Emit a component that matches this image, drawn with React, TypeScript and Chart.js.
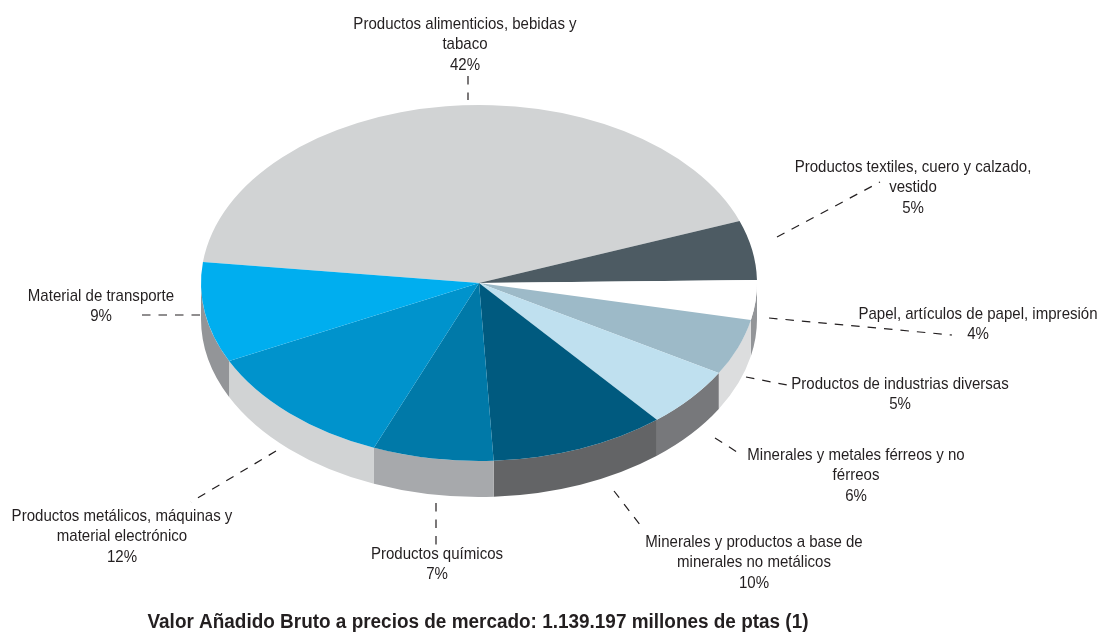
import React, { useEffect, useRef } from "react";
import { Chart, registerables } from "chart.js";

Chart.register(...registerables);

// ----- data -----
const categoryLines: string[][] = [
  ["Productos alimenticios, bebidas y", "tabaco"],
  ["Productos textiles, cuero y calzado,", "vestido"],
  ["Papel, artículos de papel, impresión"],
  ["Productos de industrias diversas"],
  ["Minerales y metales férreos y no", "férreos"],
  ["Minerales y productos a base de", "minerales no metálicos"],
  ["Productos químicos"],
  ["Productos metálicos, máquinas y", "material electrónico"],
  ["Material de transporte"],
];
const shareValues = [42.4, 5.4, 3.6, 5.1, 5.5, 10.2, 7.0, 11.6, 9.1];
const shareLabels = ["42%", "5%", "4%", "5%", "6%", "10%", "7%", "12%", "9%"];
const footerTitle = "Valor Añadido Bruto a precios de mercado: 1.139.197 millones de ptas (1)";

// ----- styles -----
const topColors = ["#d1d3d4", "#4d5b63", "#ffffff", "#9dbac8", "#bfe0ef", "#005a7f", "#0079a8", "#0093cc", "#00aeef"];
const wallColors = ["#d1d3d4", "#4d5b63", "#939598", "#dcddde", "#77787b", "#636466", "#a7a9ac", "#d1d3d4", "#939598"];
const FONT = '"Liberation Sans", sans-serif';
const TEXT_COLOR = "#231f20";
const SQUASH = 178 / 278;
const DEPTH = 36;
const LABEL_STRETCH = 0.885;
const TITLE_STRETCH = 0.947;

// ----- label placement: centre x, first line centre y, leader line -----
const labelX = [465, 913, 978, 900, 856, 754, 437, 122, 101];
const labelY = [24, 167, 314, 384, 455, 542, 554, 516, 296];
const leaders = [
  [468, 76, 468, 100],
  [777, 237, 880, 182],
  [769, 318, 952, 335],
  [746, 377, 787, 385],
  [715, 438, 737, 452],
  [614, 491, 644, 530],
  [436, 503, 436, 545],
  [276, 451, 191, 502],
  [142, 315, 201, 315],
];

function stretchedText(ctx: CanvasRenderingContext2D, text: string, x: number, y: number, k: number) {
  ctx.save();
  ctx.translate(x, y);
  ctx.scale(k, 1);
  ctx.fillText(text, 0, 0);
  ctx.restore();
}

const pie3d = {
  id: "pie3d",
  beforeDatasetDraw(chart: any) {
    const ctx: CanvasRenderingContext2D = chart.ctx;
    const arcs = chart.getDatasetMeta(0).data;
    arcs.forEach((arc: any, i: number) => {
      const r = arc.outerRadius;
      const ry = r * SQUASH;
      let a = arc.startAngle;
      let b = arc.endAngle;
      while (a >= Math.PI) { a -= 2 * Math.PI; b -= 2 * Math.PI; }
      while (a < -Math.PI) { a += 2 * Math.PI; b += 2 * Math.PI; }
      const s = Math.max(a, 0);
      const e = Math.min(b, Math.PI);
      if (e <= s) return;
      ctx.beginPath();
      ctx.ellipse(arc.x, arc.y, r, ry, 0, s, e, false);
      ctx.ellipse(arc.x, arc.y + DEPTH, r, ry, 0, e, s, true);
      ctx.closePath();
      ctx.fillStyle = wallColors[i];
      ctx.fill();
    });
    const first = arcs[0];
    ctx.save();
    ctx.translate(first.x, first.y);
    ctx.scale(1, SQUASH);
    ctx.translate(-first.x, -first.y);
  },
  afterDatasetDraw(chart: any) {
    chart.ctx.restore();
  },
  afterDraw(chart: any) {
    const ctx: CanvasRenderingContext2D = chart.ctx;
    ctx.save();
    ctx.strokeStyle = TEXT_COLOR;
    ctx.lineWidth = 1.2;
    ctx.setLineDash([8.5, 8]);
    leaders.forEach(([x0, y0, x1, y1]) => {
      ctx.beginPath();
      ctx.moveTo(x0, y0);
      ctx.lineTo(x1, y1);
      ctx.stroke();
    });
    ctx.setLineDash([]);
    ctx.fillStyle = TEXT_COLOR;
    ctx.textAlign = "center";
    ctx.textBaseline = "middle";
    ctx.font = `17px ${FONT}`;
    categoryLines.forEach((lines, i) => {
      const all = [...lines, shareLabels[i]];
      all.forEach((line, k) => stretchedText(ctx, line, labelX[i], labelY[i] + k * 20.5, LABEL_STRETCH));
    });
    ctx.font = `bold 20px ${FONT}`;
    stretchedText(ctx, footerTitle, 478, 622, TITLE_STRETCH);
    ctx.restore();
  },
};

export default function App() {
  const ref = useRef<HTMLCanvasElement>(null);
  useEffect(() => {
    const chart = new Chart(ref.current as HTMLCanvasElement, {
      type: "pie",
      data: {
        labels: categoryLines.map((l) => l.join(" ")),
        datasets: [{ data: shareValues, backgroundColor: topColors, borderWidth: 0 }],
      },
      options: {
        animation: false,
        responsive: false,
        rotation: 276.8,
        layout: { padding: { left: 201, right: 342, top: 5, bottom: 72 } },
        plugins: { legend: { display: false }, tooltip: { enabled: false }, title: { display: false } },
      },
      plugins: [pie3d],
    } as any);
    return () => chart.destroy();
  }, []);
  return (
    <div style={{ position: "absolute", left: 0, top: 0, width: 1099, height: 633, background: "#fff" }}>
      <canvas ref={ref} width={1099} height={633} style={{ display: "block" }} />
    </div>
  );
}
